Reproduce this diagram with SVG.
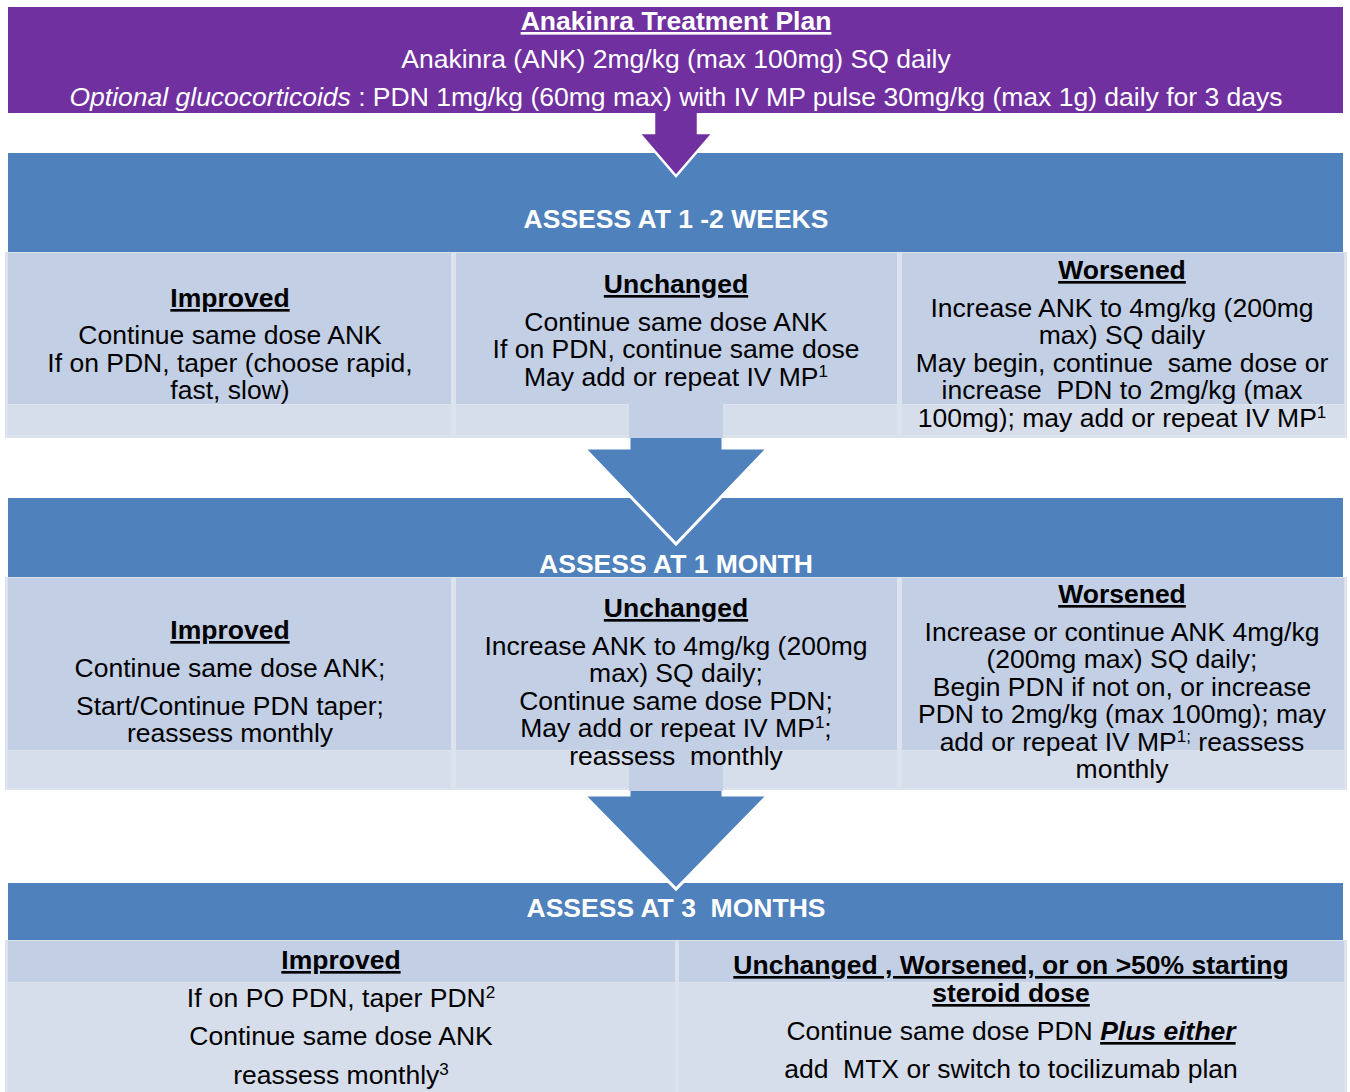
<svg xmlns="http://www.w3.org/2000/svg" width="1350" height="1092" viewBox="0 0 1350 1092">
<style>
.t{font-family:"Liberation Sans",Arial,sans-serif;font-size:26.5px;fill:#000;text-anchor:middle;white-space:pre}
.wt{font-family:"Liberation Sans",Arial,sans-serif;font-size:26.5px;fill:#fff;text-anchor:middle;white-space:pre}
.b{font-weight:bold}
.u{text-decoration:underline}
.i{font-style:italic}
.band{fill:#4F81BD}
.top{fill:#C3CFE5}
.low{fill:#D6DDEB}
.frame{fill:#DCE2EE}
.arrow{fill:#4F81BD;stroke:#fff;stroke-width:3;stroke-linejoin:miter}
</style>
<rect width="1350" height="1092" fill="#fff"/>

<g id="connectors">
  <polygon id="arrow-plan-to-week" points="654,100 698,100 698,133 713,133 676,176 639,133 654,133" fill="#7030A0" stroke="#fff" stroke-width="2.5"/>
</g>

<g id="band-week">
  <rect class="band" x="8" y="153" width="1335" height="99"/>
</g>
<use href="#arrow-plan-to-week"/>

<g id="plan">
  <rect x="8" y="7" width="1335" height="106" fill="#7030A0"/>
  <text class="wt b u" x="676" y="30">Anakinra Treatment Plan</text>
  <text class="wt" x="676" y="68">Anakinra (ANK) 2mg/kg (max 100mg) SQ daily</text>
  <text class="wt" x="676" y="106"><tspan class="i">Optional glucocorticoids</tspan> : PDN 1mg/kg (60mg max) with IV MP pulse 30mg/kg (max 1g) daily for 3 days</text>
</g>
<g id="assess-week">
  <text class="wt b" x="676" y="228">ASSESS AT 1 -2 WEEKS</text>
</g>

<g id="band-month">
  <rect class="band" x="8" y="498" width="1335" height="80"/>
</g>
<g id="arrow-week-to-month-g">
  <polygon class="arrow" points="629,425 723,425 723,448 768,448 676,544 584,448 629,448"/>
</g>
<g id="assess-month">
  <text class="wt b" x="676" y="573">ASSESS AT 1 MONTH</text>
</g>

<g id="band-3months">
  <rect class="band" x="8" y="883" width="1335" height="58"/>
</g>
<g id="arrow-month-to-3months-g">
  <polygon class="arrow" points="629,775 723,775 723,795 768,795 676,889 584,795 629,795"/>
</g>
<g id="assess-3months">
  <text class="wt b" x="676" y="917">ASSESS AT 3  MONTHS</text>
</g>

<!-- Row 1 -->
<rect class="frame" x="5" y="252" width="1342" height="186"/>
<g id="w-improved">
  <rect class="top" x="8" y="253" width="443" height="151"/>
  <rect class="low" x="8" y="405" width="443" height="30"/>
  <text class="t b u" x="230" y="307">Improved</text>
  <text class="t" x="230" y="344">Continue same dose ANK</text>
  <text class="t" x="230" y="372">If on PDN, taper (choose rapid,</text>
  <text class="t" x="230" y="399">fast, slow)</text>
</g>
<g id="w-unchanged">
  <rect class="top" x="456" y="253" width="441" height="151"/>
  <rect class="low" x="456" y="405" width="441" height="30"/>
  <rect class="top" x="629" y="404" width="94" height="34"/>
  <text class="t b u" x="676" y="293">Unchanged</text>
  <text class="t" x="676" y="331">Continue same dose ANK</text>
  <text class="t" x="676" y="358">If on PDN, continue same dose</text>
  <text class="t" x="676" y="386">May add or repeat IV MP<tspan font-size="17" dy="-9">1</tspan></text>
</g>
<g id="w-worsened">
  <rect class="top" x="902" y="253" width="442" height="151"/>
  <rect class="low" x="902" y="405" width="442" height="30"/>
  <text class="t b u" x="1122" y="279">Worsened</text>
  <text class="t" x="1122" y="317">Increase ANK to 4mg/kg (200mg</text>
  <text class="t" x="1122" y="344">max) SQ daily</text>
  <text class="t" x="1122" y="372">May begin, continue  same dose or</text>
  <text class="t" x="1122" y="399">increase  PDN to 2mg/kg (max</text>
  <text class="t" x="1122" y="427">100mg); may add or repeat IV MP<tspan font-size="17" dy="-9">1</tspan></text>
</g>

<!-- Row 2 -->
<rect class="frame" x="5" y="577" width="1342" height="213"/>
<g id="m-improved">
  <rect class="top" x="8" y="578" width="443" height="172"/>
  <rect class="low" x="8" y="751" width="443" height="37"/>
  <text class="t b u" x="230" y="639">Improved</text>
  <text class="t" x="230" y="677">Continue same dose ANK;</text>
  <text class="t" x="230" y="715">Start/Continue PDN taper;</text>
  <text class="t" x="230" y="742">reassess monthly</text>
</g>
<g id="m-unchanged">
  <rect class="top" x="456" y="578" width="441" height="172"/>
  <rect class="low" x="456" y="751" width="441" height="37"/>
  <rect class="top" x="629" y="750" width="94" height="41"/>
  <text class="t b u" x="676" y="617">Unchanged</text>
  <text class="t" x="676" y="655">Increase ANK to 4mg/kg (200mg</text>
  <text class="t" x="676" y="682">max) SQ daily;</text>
  <text class="t" x="676" y="710">Continue same dose PDN;</text>
  <text class="t" x="676" y="737">May add or repeat IV MP<tspan font-size="17" dy="-9">1</tspan><tspan dy="9">;</tspan></text>
  <text class="t" x="676" y="765">reassess  monthly</text>
</g>
<g id="m-worsened">
  <rect class="top" x="902" y="578" width="442" height="172"/>
  <rect class="low" x="902" y="751" width="442" height="37"/>
  <text class="t b u" x="1122" y="603">Worsened</text>
  <text class="t" x="1122" y="641">Increase or continue ANK 4mg/kg</text>
  <text class="t" x="1122" y="668">(200mg max) SQ daily;</text>
  <text class="t" x="1122" y="696">Begin PDN if not on, or increase</text>
  <text class="t" x="1122" y="723">PDN to 2mg/kg (max 100mg); may</text>
  <text class="t" x="1122" y="751">add or repeat IV MP<tspan font-size="17" dy="-9">1;</tspan><tspan dy="9"> reassess</tspan></text>
  <text class="t" x="1122" y="778">monthly</text>
</g>

<!-- Row 3 -->
<rect class="frame" x="5" y="940" width="1342" height="152"/>
<g id="q-improved">
  <rect class="top" x="8" y="941" width="667" height="41"/>
  <rect class="low" x="8" y="983" width="667" height="109"/>
  <text class="t b u" x="341" y="969">Improved</text>
  <text class="t" x="341" y="1007">If on PO PDN, taper PDN<tspan font-size="17" dy="-9">2</tspan></text>
  <text class="t" x="341" y="1045">Continue same dose ANK</text>
  <text class="t" x="341" y="1084">reassess monthly<tspan font-size="17" dy="-9">3</tspan></text>
</g>
<g id="q-other">
  <rect class="top" x="679" y="941" width="665" height="41"/>
  <rect class="low" x="679" y="983" width="665" height="109"/>
  <text class="t b u" x="1011" y="974">Unchanged , Worsened, or on &gt;50% starting</text>
  <text class="t b u" x="1011" y="1002">steroid dose</text>
  <text class="t" x="1011" y="1040">Continue same dose PDN <tspan class="b i u">Plus either</tspan></text>
  <text class="t" x="1011" y="1078">add  MTX or switch to tocilizumab plan</text>
</g>
</svg>
